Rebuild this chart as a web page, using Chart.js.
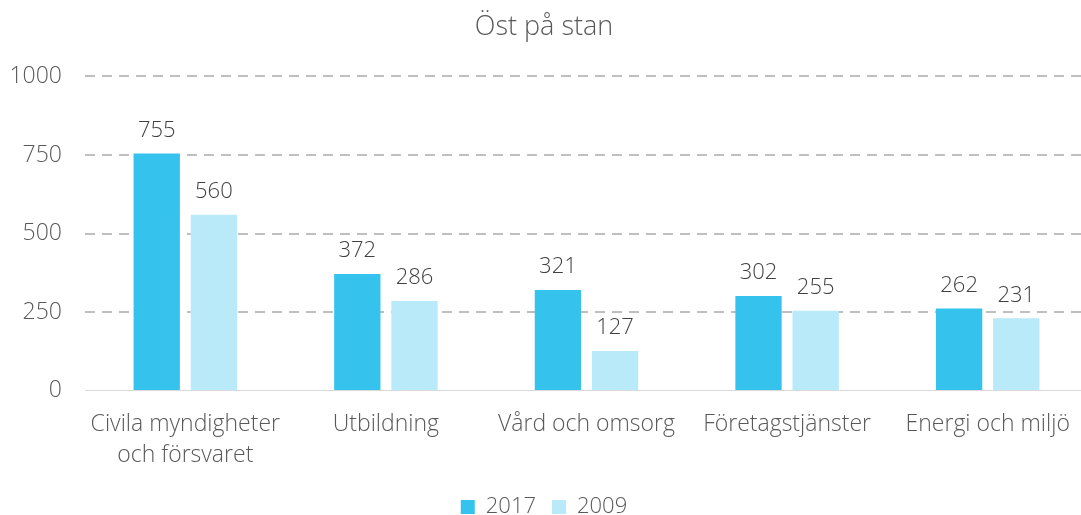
<!DOCTYPE html>
<html>
<head>
<meta charset="utf-8">
<script src="https://cdn.jsdelivr.net/npm/chart.js@4"></script>
<style>
  html, body { margin: 0; padding: 0; background: #fff; overflow: hidden; }
  #wrap { width: 1100px; height: 515px; }
</style>
</head>
<body>
<div id="wrap"><canvas id="myChart" width="1100" height="515"></canvas></div>
<script>
const categories = [["Civila myndigheter", "och försvaret"], "Utbildning", "Vård och omsorg", "Företagstjänster", "Energi och miljö"];
const values2017 = [755, 372, 321, 302, 262];
const values2009 = [560, 286, 127, 255, 231];
const yTicks = [0, 250, 500, 750, 1000];

const fontFamily = "'Open Sans', Lato, sans-serif";

// draws the value over each bar
const barLabels = {
    id: "barLabels",
    afterDatasetsDraw(chart) {
        const ctx = chart.ctx;
        ctx.save();
        ctx.font = "300 22px " + fontFamily;
        ctx.fillStyle = "#404040";
        ctx.textAlign = "center";
        ctx.textBaseline = "middle";
        chart.data.datasets.forEach(function(ds, i) {
            chart.getDatasetMeta(i).data.forEach(function(bar, j) {
                ctx.fillText(ds.data[j], bar.x, bar.y - 23);
            });
        });
        ctx.restore();
    }
};

const ctx = document.getElementById("myChart").getContext("2d");
const myChart = new Chart(ctx, {
    type: "bar",
    data: {
        labels: categories,
        datasets: [
            { label: "2017", data: values2017, backgroundColor: "#35C3EE" },
            { label: "2009", data: values2009, backgroundColor: "#B8EAF9" }
        ]
    },
    options: {
        responsive: false,
        animation: false,
        layout: { padding: { left: 0, right: 12, top: 0, bottom: -13 } },
        datasets: { bar: { categoryPercentage: 0.57, barPercentage: 0.81 } },
        plugins: {
            title: {
                display: true,
                text: "Öst på stan",
                color: "#595959",
                font: { family: fontFamily, size: 27, weight: "300", lineHeight: 1.2 },
                padding: { top: 11, bottom: 33 }
            },
            legend: {
                position: "bottom",
                labels: {
                    color: "#595959",
                    font: { family: fontFamily, size: 22, weight: "300" },
                    boxWidth: 14,
                    boxHeight: 14,
                    padding: 16
                }
            },
            tooltip: { enabled: false }
        },
        scales: {
            x: {
                grid: { display: false, drawTicks: false },
                border: { color: "#D9D9D9", width: 1 },
                afterFit(scale) { scale.height -= 9; },
                ticks: {
                    color: "#595959",
                    font: { family: fontFamily, size: 23, weight: "300", lineHeight: 1.35 },
                    padding: 18,
                    maxRotation: 0
                }
            },
            y: {
                min: 0,
                max: 1000,
                afterBuildTicks(scale) {
                    scale.ticks = yTicks.map(v => ({ value: v }));
                },
                afterFit(scale) { scale.width = 85; },
                grid: {
                    color: function(c) { return c.tick.value === 0 ? "rgba(0,0,0,0)" : "#BFBFBF"; },
                    lineWidth: 2,
                    drawTicks: false
                },
                border: { display: false, dash: [10, 7] },
                ticks: {
                    color: "#595959",
                    font: { family: fontFamily, size: 23, weight: "300" },
                    padding: 23,
                    callback: function(v) { return String(v); }
                }
            }
        }
    },
    plugins: [barLabels]
});
</script>
</body>
</html>
